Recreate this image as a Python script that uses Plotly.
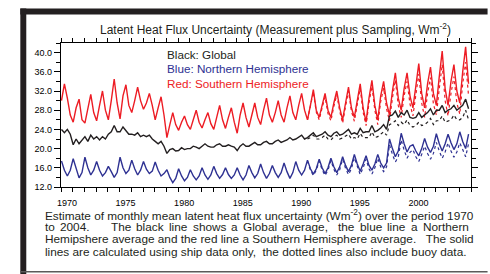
import plotly.graph_objects as go

# ---------------- data (4 points per year: Jan, Apr, Jul, Oct) --------------
years = list(range(1970, 2005))
quarter_months = [0.5, 3.5, 6.5, 9.5]

# Southern Hemisphere (red), ship only (solid)
sh_ship = [
    30.0, 33.5, 30.5, 27.0,
    25.5, 28.5, 30.3, 26.0,
    25.3, 28.0, 31.3, 27.5,
    25.8, 29.0, 32.0, 28.0,
    26.0, 30.0, 34.5, 29.5,
    26.2, 31.0, 33.3, 29.0,
    27.5, 30.0, 32.8, 30.0,
    28.2, 29.5, 31.5, 29.0,
    26.0, 28.5, 30.8, 27.0,
    22.3, 25.0, 27.5, 25.0,
    23.8, 25.5, 26.8, 25.0,
    24.0, 26.0, 28.0, 25.5,
    24.3, 26.0, 27.5, 25.2,
    24.0, 26.5, 29.0, 26.0,
    24.2, 26.5, 28.5, 25.5,
    23.2, 27.0, 29.5, 26.5,
    24.5, 27.0, 29.5, 26.5,
    25.0, 28.0, 30.5, 27.0,
    25.5, 27.5, 30.0, 27.0,
    25.5, 28.5, 31.0, 27.5,
    26.0, 29.0, 31.5, 28.0,
    26.0, 29.0, 32.3, 28.0,
    26.5, 29.0, 31.5, 28.0,
    26.5, 29.5, 32.0, 28.5,
    26.0, 29.5, 32.8, 28.5,
    26.5, 30.0, 33.5, 28.5,
    25.5, 30.5, 34.2, 29.0,
    26.0, 31.0, 34.0, 29.5,
    27.0, 32.0, 35.8, 30.5,
    28.0, 32.5, 35.8, 31.0,
    28.5, 33.0, 37.7, 31.5,
    28.5, 33.5, 37.0, 31.5,
    29.0, 35.0, 40.3, 32.5,
    29.0, 34.0, 37.5, 32.0,
    29.5, 36.0, 41.2, 33.5,
]
# Northern Hemisphere (blue), ship only (solid)
nh_ship = [
    17.4, 15.5, 14.3, 15.5,
    17.9, 15.8, 13.9, 15.0,
    18.2, 16.0, 14.5, 15.5,
    17.3, 15.5, 14.3, 15.0,
    16.3, 15.2, 14.0, 15.0,
    18.2, 16.0, 14.8, 15.5,
    17.6, 15.8, 14.5, 15.5,
    17.3, 15.7, 14.8, 15.3,
    17.2, 15.5, 14.3, 14.8,
    15.6, 14.0, 12.9, 13.8,
    15.8, 14.3, 13.3, 14.0,
    15.6, 14.3, 13.5, 14.3,
    16.0, 14.5, 13.6, 14.5,
    16.3, 14.8, 13.8, 14.6,
    16.0, 14.6, 13.8, 14.5,
    16.0, 14.5, 13.5, 14.5,
    16.5, 15.0, 13.9, 14.8,
    16.8, 15.0, 13.8, 14.8,
    16.5, 15.0, 14.0, 15.0,
    17.0, 15.2, 13.8, 15.0,
    17.3, 15.5, 14.5, 15.5,
    17.6, 15.8, 14.7, 15.8,
    17.8, 16.0, 14.8, 16.0,
    18.0, 16.2, 15.0, 16.2,
    18.3, 16.5, 15.2, 16.5,
    18.8, 16.8, 15.3, 16.8,
    18.5, 16.5, 15.5, 16.8,
    18.8, 17.0, 16.0, 17.0,
    22.0, 20.0, 18.3, 19.5,
    23.2, 21.0, 19.3, 20.5,
    20.8, 19.5, 18.5, 20.0,
    22.1, 20.3, 19.2, 20.5,
    23.1, 21.0, 19.5, 21.0,
    23.0, 21.2, 19.8, 21.0,
    23.5, 21.5, 20.0, 23.0,
]
# Global (black), ship only (solid)
gl_ship = [
    24.0, 23.3, 24.0, 23.0,
    20.8, 22.0, 21.0, 21.8,
    22.5, 21.5, 22.8, 22.0,
    22.5, 21.8, 22.5, 22.0,
    23.0, 23.5, 24.8, 23.5,
    23.5, 24.5, 23.8, 23.0,
    23.0, 22.8, 23.3, 22.5,
    22.8, 22.5, 22.8, 22.0,
    21.5, 21.0, 21.5, 20.5,
    19.0, 19.8, 20.0, 19.5,
    19.6, 20.2, 19.8, 20.0,
    20.0, 20.5, 20.3, 20.0,
    20.5, 21.0, 20.5, 20.3,
    20.3, 20.8, 21.0, 20.5,
    20.5, 20.8, 20.5, 20.3,
    19.6, 20.5, 21.0, 20.5,
    20.5, 21.0, 21.3, 20.8,
    20.8, 21.3, 21.5, 21.0,
    21.0, 21.5, 21.8, 21.3,
    21.5, 21.8, 22.3, 21.8,
    22.0, 22.5, 22.8, 22.0,
    22.3, 22.8, 23.3, 22.5,
    22.8, 23.0, 23.5, 22.8,
    22.5, 23.2, 23.5, 22.8,
    23.0, 23.5, 24.0, 23.0,
    23.3, 23.0, 24.2, 23.3,
    23.5, 23.5, 24.8, 23.5,
    23.8, 24.3, 25.0, 24.0,
    26.8, 27.0, 27.8, 26.5,
    27.5, 27.0, 28.0, 26.5,
    26.3, 26.5, 27.5, 26.5,
    27.0, 27.5, 28.3, 27.0,
    28.0, 28.0, 29.0, 27.5,
    28.0, 28.3, 29.0, 28.0,
    28.5, 29.0, 30.3, 28.3,
]

# ship + buoy (dotted) — differs from ship-only from 1991 on
buoy_years = list(range(1991, 2005))
sh_buoy = [
    26.0, 28.7, 31.8, 27.6,
    26.0, 28.5, 30.8, 27.3,
    25.8, 28.8, 31.2, 27.8,
    25.3, 28.8, 32.0, 27.8,
    25.7, 29.2, 32.5, 27.6,
    24.8, 29.5, 33.0, 28.0,
    25.0, 29.8, 32.6, 28.3,
    25.8, 30.5, 34.3, 29.0,
    26.5, 31.0, 34.0, 29.3,
    26.8, 31.2, 35.5, 29.5,
    26.5, 31.5, 34.8, 29.3,
    27.0, 32.5, 37.5, 30.0,
    26.8, 31.5, 35.0, 29.5,
    27.2, 33.5, 38.0, 31.0,
]
nh_buoy = [
    17.4, 15.5, 14.4, 15.5,
    17.4, 15.6, 14.4, 15.5,
    17.5, 15.7, 14.5, 15.6,
    17.8, 15.9, 14.6, 15.8,
    18.1, 16.1, 14.6, 16.0,
    17.8, 15.8, 14.7, 16.0,
    18.0, 16.2, 15.2, 16.2,
    20.8, 18.8, 17.2, 18.3,
    21.8, 19.7, 18.0, 19.2,
    19.8, 18.3, 17.3, 18.8,
    20.5, 19.0, 17.8, 19.0,
    21.3, 19.5, 18.0, 19.3,
    21.2, 19.5, 18.2, 19.3,
    21.2, 19.8, 18.3, 21.0,
]
gl_buoy = [
    22.0, 22.3, 22.8, 22.0,
    22.0, 22.3, 22.8, 22.0,
    21.8, 22.5, 22.8, 22.0,
    22.2, 22.6, 23.0, 22.0,
    22.3, 22.0, 23.2, 22.3,
    22.3, 22.3, 23.5, 22.3,
    22.5, 23.0, 23.5, 22.8,
    25.0, 25.3, 25.8, 24.8,
    25.5, 25.0, 26.0, 24.8,
    24.5, 24.8, 25.5, 24.8,
    25.0, 25.5, 26.3, 25.0,
    25.8, 25.8, 26.8, 25.5,
    25.8, 26.0, 27.0, 26.0,
    26.0, 26.5, 28.0, 26.0,
]

y_tick_vals = [12, 16, 20, 24, 28, 32, 36, 40]
y_tick_text = ["12.0", "16.0", "20.0", "24.0", "28.0", "32.0", "36.0", "40.0"]
x_tick_vals = [1970, 1975, 1980, 1985, 1990, 1995, 2000]
x_tick_text = ["1970", "1975", "1980", "1985", "1990", "1995", "2000"]

title_text = "Latent Heat Flux Uncertainty (Measurement plus Sampling, Wm<sup>-2</sup>)"
legend_lines = [("Black: Global", "#231f20"),
                ("Blue: Northern Hemisphere", "#2e3192"),
                ("Red: Southern Hemisphere", "#ed1c24")]
# caption: (line index, text, left x px) — the justified second line is placed word by word
caption_parts = [
    (0, "Estimate of monthly mean latent heat flux uncertainty (Wm<sup>-2</sup>) over the period 1970", 44),
    (1, "to", 44), (1, "2004.", 59), (1, "The", 110), (1, "black", 136), (1, "line", 169),
    (1, "shows", 193), (1, "a", 231.5), (1, "Global", 243.5), (1, "average,", 283),
    (1, "the", 339.5), (1, "blue", 361.5), (1, "line", 389), (1, "a", 413), (1, "Northern", 425),
    (2, "Hemipshere average and the red line a Southern Hemisphere average.\u00a0\u00a0 The solid", 44),
    (3, "lines are calculated using ship data only,\u00a0 the dotted lines also include buoy data.", 44),
]

# ---------------- figure ----------------
W, H = 490, 274
L, R, T, B = 61, 474.3, 42.5, 186.7


def px(x):
    return (x - L) / (R - L)


def py(y):
    return (B - y) / (B - T)


def xs(yrs):
    return [y + m / 12 for y in yrs for m in quarter_months]


BLACK, BLUE, RED = "#231f20", "#2e3192", "#ed1c24"
fig = go.Figure()
for vals, col in [(gl_buoy, BLACK), (nh_buoy, BLUE), (sh_buoy, RED)]:
    fig.add_trace(go.Scatter(x=xs(buoy_years), y=vals, mode="lines",
                             line=dict(color=col, width=1.2, dash="dot")))
for vals, col in [(gl_ship, BLACK), (nh_ship, BLUE), (sh_ship, RED)]:
    fig.add_trace(go.Scatter(x=xs(years), y=vals, mode="lines",
                             line=dict(color=col, width=1.4)))

fig.update_xaxes(range=[1970, 2005], showgrid=False, zeroline=False,
                 showline=True, linecolor="black", linewidth=1.2, mirror="ticks",
                 tickvals=x_tick_vals, ticktext=x_tick_text,
                 ticks="outside", ticklen=4, tickwidth=1, tickcolor="black",
                 minor=dict(dtick=1, tick0=1970, ticks="outside", ticklen=4,
                            tickwidth=1, tickcolor="black"),
                 ticklabelshift=6, ticklabelstandoff=3,
                 tickfont=dict(size=9, color="black"))
fig.update_yaxes(range=[12, 42], showgrid=False, zeroline=False,
                 showline=True, linecolor="black", linewidth=1.2, mirror="ticks",
                 tickvals=y_tick_vals, ticktext=y_tick_text,
                 ticks="outside", ticklen=6, tickwidth=1, tickcolor="black",
                 minor=dict(tickvals=[14, 18, 22, 26, 30, 34, 38, 42], ticks="outside",
                            ticklen=4, tickwidth=1, tickcolor="black"),
                 tickfont=dict(size=9, color="black"))

FONT = "Liberation Sans, Arial, Helvetica, sans-serif"
ann = [dict(text=title_text, x=px(277), y=py(28), xref="paper", yref="paper",
            showarrow=False, xanchor="center", yanchor="middle",
            font=dict(size=12, color=BLACK, family=FONT))]
for i, (t, c) in enumerate(legend_lines):
    ann.append(dict(text=t, x=px(166), y=py(54.3 + 14.2 * i), xref="paper", yref="paper",
                    showarrow=False, xanchor="left", yanchor="middle",
                    font=dict(size=11.7, color=c, family=FONT)))
for line, t, x_left in caption_parts:
    ann.append(dict(text=t, x=px(x_left), y=py(215 + 12.1 * line), xref="paper", yref="paper",
                    showarrow=False, xanchor="left", yanchor="middle", borderpad=0,
                    font=dict(size=11.8, color=BLACK, family=FONT)))

FRAME = "#231f20"
shapes = [
    dict(type="rect", xref="paper", yref="paper", x0=px(20), x1=px(491), y0=py(8), y1=py(14),
         fillcolor=FRAME, line=dict(width=0), layer="above"),
    dict(type="rect", xref="paper", yref="paper", x0=px(20), x1=px(26), y0=py(8), y1=py(275),
         fillcolor=FRAME, line=dict(width=0), layer="above"),
    dict(type="rect", xref="paper", yref="paper", x0=px(20), x1=px(491), y0=py(270.8), y1=py(272.3),
         fillcolor="#5a5a5a", line=dict(width=0), layer="above"),
]

fig.update_layout(width=W, height=H, showlegend=False,
                  margin=dict(l=L, r=W - R, t=T, b=H - B, pad=0),
                  paper_bgcolor="white", plot_bgcolor="white",
                  font=dict(family=FONT, color=BLACK),
                  annotations=ann, shapes=shapes)
fig.write_html("out.html", config={"displayModeBar": False},
               post_script="document.body.style.margin='0px';document.body.style.padding='0px';")
